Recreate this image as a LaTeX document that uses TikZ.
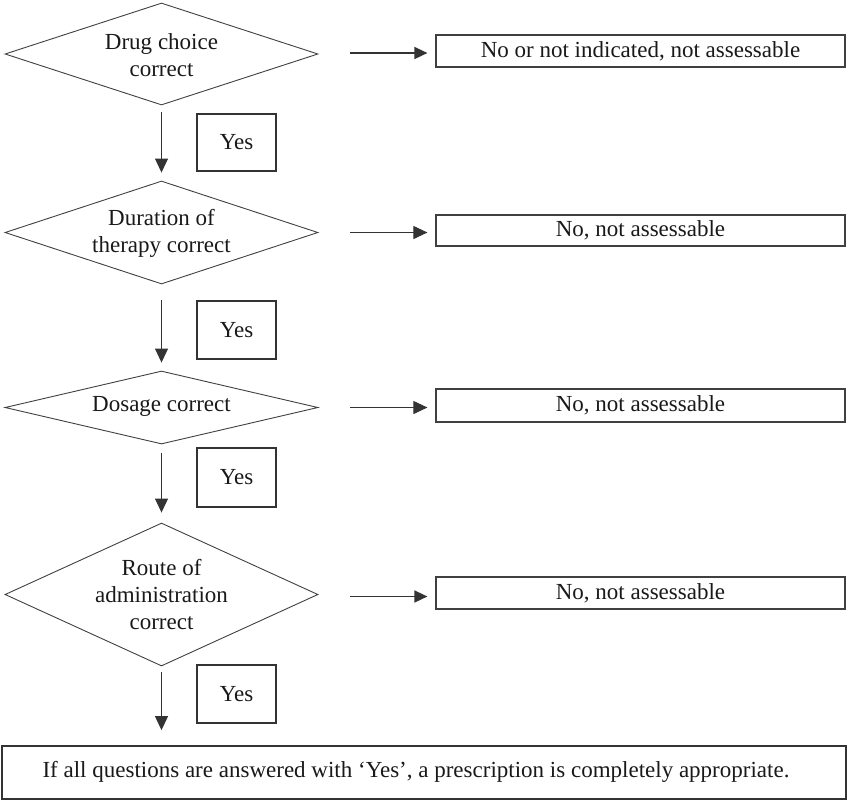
\documentclass[tikz,border=0pt]{standalone}
\usepackage{fontspec}
\setmainfont{Liberation Serif}
\usetikzlibrary{shapes.geometric,arrows.meta,calc}
\begin{document}
\begin{tikzpicture}[x=1pt,y=-1pt,
  every node/.style={font=\fontsize{23}{27}\selectfont, text=black!90},
  dia/.style={shape=diamond, draw=black!75, line width=0.9pt, inner sep=0pt, minimum width=313pt},
  nobox/.style={draw=black!75, line width=1.2pt, minimum width=409pt, inner sep=0pt},
  yesbox/.style={draw=black!80, line width=1.8pt, minimum width=79pt, inner sep=0pt},
  arr/.style={draw=black!80, line width=1pt, -{Triangle[length=14pt,width=13pt]}},
  thickarr/.style={arr, line width=1.6pt, -{Triangle[length=13pt,width=12pt]}}]
\useasboundingbox (0,0) rectangle (850,801);
% decisions
\node[dia, minimum height=102pt] (d1) at (161.5,54) {};
\node[align=center] (t1) at (161.5,55) {Drug choice\\correct};
\node[dia, minimum height=103pt] (d2) at (161.5,232.5) {};
\node[align=center] (t2) at (161.5,233) {Duration of\\therapy correct};
\node[dia, minimum height=73pt] (d3) at (161.5,407.5) {};
\node (t3) at (161.5,406) {Dosage correct};
\node[dia, minimum height=143pt] (d4) at (161.5,594.5) {};
\node[align=center] (t4) at (161.5,595) {Route of\\administration\\correct};
% no boxes
\node[nobox, minimum height=32pt] (b1) at (640.5,51) {No or not indicated, not assessable};
\node[nobox, minimum height=31pt] (b2) at (640.5,230.5) {No, not assessable};
\node[nobox, minimum height=33pt] (b3) at (640.5,405.5) {No, not assessable};
\node[nobox, minimum height=32pt] (b4) at (640.5,593) {No, not assessable};
% yes boxes
\node[yesbox, minimum height=57pt] (y1) at (236.5,142.5) {Yes};
\node[yesbox, minimum height=58pt] (y2) at (236.5,330) {Yes};
\node[yesbox, minimum height=59pt] (y3) at (236.5,477.5) {Yes};
\node[yesbox, minimum height=58pt] (y4) at (236.5,694) {Yes};
% final box
\node[draw=black!80, line width=1.8pt, minimum width=844pt, minimum height=53pt, inner sep=0pt] (fin) at (424,772.5) {};
\node (ft) at (416,772) {If all questions are answered with ‘Yes’, a prescription is completely appropriate.};
% horizontal arrows
\draw[thickarr] ($(d1.east)+(32,-1)$) -- ($(b1.west |- d1.east)+(-8,-1)$);
\draw[arr] ($(d2.east)+(32,0)$) -- ($(b2.west |- d2.east)+(-8,0)$);
\draw[arr] ($(d3.east)+(32,0)$) -- ($(b3.west |- d3.east)+(-8,0)$);
\draw[thickarr] ($(d4.east)+(32,2)$) -- ($(b4.west |- d4.east)+(-8,2)$);
% vertical arrows
\draw[arr] ($(d1.south)+(0,7)$) -- ($(d2.north)+(0,-8)$);
\draw[arr] ($(d2.south)+(0,16)$) -- ($(d3.north)+(0,-8)$);
\draw[arr] ($(d3.south)+(0,9)$) -- ($(d4.north)+(0,-10)$);
\draw[arr] ($(d4.south)+(0,6)$) -- ($(fin.north -| d4.south)+(0,-15)$);
\end{tikzpicture}
\end{document}
